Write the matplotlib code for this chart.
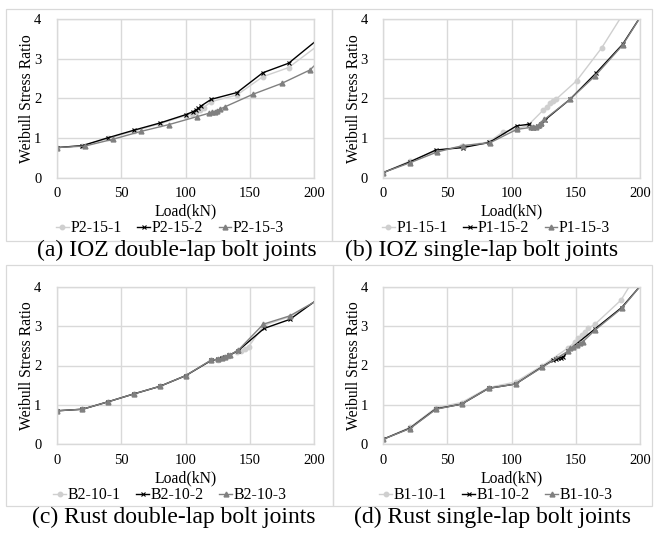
import matplotlib
matplotlib.use("Agg")
import matplotlib.pyplot as plt
from matplotlib.patches import Rectangle

plt.rcParams['font.family'] = ['Liberation Serif', 'DejaVu Serif']

# ---------------- data ----------------
# (a) IOZ double-lap
loadA1 = [0, 20, 40, 60, 80, 100, 105, 108, 111, 114, 120, 140, 160, 180, 220]
ratioA1 = [0.76, 0.81, 0.99, 1.18, 1.36, 1.57, 1.62, 1.67, 1.72, 1.77, 1.92, 2.09, 2.55, 2.78, 3.76]
loadA2 = [0, 20, 40, 60, 80, 100, 106, 108, 110, 112, 120, 140, 160, 180, 220]
ratioA2 = [0.76, 0.81, 1.01, 1.20, 1.38, 1.59, 1.67, 1.71, 1.75, 1.81, 1.98, 2.15, 2.65, 2.89, 3.95]
loadA3 = [0, 22, 43.5, 65.5, 87, 108.7, 118.4, 120.8, 122.9, 124.7, 126.8, 130.6, 152.6, 174.6, 196.6, 218]
ratioA3 = [0.76, 0.80, 0.97, 1.17, 1.34, 1.54, 1.63, 1.65, 1.67, 1.69, 1.73, 1.79, 2.11, 2.38, 2.72, 3.4]
labelsA = ["P2-15-1", "P2-15-2", "P2-15-3"]

# (b) IOZ single-lap
loadB1 = [0, 20.8, 41, 61, 82, 93.5, 104, 113, 124.7, 127.3, 129.9, 132.5, 134.6, 150.7, 170.2, 190]
ratioB1 = [0.13, 0.42, 0.67, 0.80, 0.90, 1.16, 1.23, 1.33, 1.71, 1.79, 1.88, 1.94, 1.98, 2.45, 3.28, 4.3]
loadB2 = [0, 20.8, 41, 61.9, 82.6, 103.9, 113.8, 116.4, 118.5, 120.5, 122.5, 126, 145.5, 165.7, 186.5, 207]
ratioB2 = [0.13, 0.40, 0.70, 0.76, 0.89, 1.31, 1.35, 1.25, 1.27, 1.30, 1.36, 1.46, 1.98, 2.64, 3.37, 4.4]
loadB3 = [0, 21, 42, 62, 83, 104, 115, 117, 119, 121, 123, 125.5, 145.5, 165, 186.5, 207]
ratioB3 = [0.13, 0.38, 0.65, 0.81, 0.88, 1.22, 1.27, 1.27, 1.29, 1.33, 1.39, 1.47, 1.98, 2.57, 3.35, 4.4]
labelsB = ["P1-15-1", "P1-15-2", "P1-15-3"]

# (c) Rust double-lap
loadC1 = [0, 20, 40, 60, 80, 100, 120, 125, 128, 131, 134, 140, 143, 146, 149, 161, 181, 220]
ratioC1 = [0.85, 0.89, 1.08, 1.28, 1.47, 1.74, 2.13, 2.15, 2.18, 2.21, 2.25, 2.35, 2.38, 2.42, 2.48, 3.02, 3.24, 4.0]
loadC2 = [0, 20, 40, 60, 80, 100, 120, 125, 128, 131, 134, 141, 161, 181, 220]
ratioC2 = [0.85, 0.89, 1.08, 1.28, 1.47, 1.74, 2.13, 2.16, 2.18, 2.21, 2.26, 2.38, 2.94, 3.17, 4.09]
loadC3 = [0, 20, 40, 60, 80, 100, 120, 125.4, 128, 130.6, 133.2, 134.5, 141, 160.5, 181, 220]
ratioC3 = [0.85, 0.89, 1.08, 1.28, 1.47, 1.74, 2.14, 2.16, 2.18, 2.21, 2.26, 2.27, 2.39, 3.05, 3.26, 3.98]
labelsC = ["B2-10-1", "B2-10-2", "B2-10-3"]

# (d) Rust single-lap
loadD1 = [0, 20.8, 41, 61, 82, 103, 124, 144.2, 149.4, 152, 154.6, 157.2, 159.7, 165, 185.2, 200]
ratioD1 = [0.13, 0.43, 0.93, 1.06, 1.44, 1.58, 2.00, 2.45, 2.60, 2.69, 2.77, 2.86, 2.94, 3.05, 3.66, 4.45]
loadD2 = [0, 20.8, 41, 61, 82, 103, 124, 132.5, 134.6, 136.4, 138.2, 140.3, 144.2, 165, 185.7, 205]
ratioD2 = [0.13, 0.41, 0.90, 1.02, 1.42, 1.53, 1.97, 2.14, 2.17, 2.18, 2.20, 2.22, 2.38, 2.93, 3.47, 4.2]
loadD3 = [0, 20.8, 41, 61, 82, 103, 124, 144.2, 145.5, 148.1, 150.7, 153.3, 155.4, 165, 185.7, 205]
ratioD3 = [0.13, 0.40, 0.89, 1.02, 1.42, 1.53, 1.96, 2.37, 2.44, 2.48, 2.52, 2.56, 2.60, 2.90, 3.45, 4.2]
labelsD = ["B1-10-1", "B1-10-2", "B1-10-3"]

captions = ["(a) IOZ double-lap bolt joints", "(b) IOZ single-lap bolt joints",
            "(c) Rust double-lap bolt joints", "(d) Rust single-lap bolt joints"]

xticks = [0, 50, 100, 150, 200]
yticks = [0, 1, 2, 3, 4]

# ---------------- layout ----------------
W, H = 654, 533
fig = plt.figure(figsize=(W / 100, H / 100), dpi=100)
fig.patch.set_facecolor("white")

def px_rect(x0, y0, x1, y1):
    return [x0 / W, 1 - y1 / H, (x1 - x0) / W, (y1 - y0) / H]

grid_c = "#D9D9D9"
styles = [
    dict(color="#CFCFCF", marker="o", ms=3.2, lw=1.0, mec="#CFCFCF", mfc="#CFCFCF"),
    dict(color="black", marker="x", ms=3.2, lw=1.0, mew=0.8),
    dict(color="#808080", marker="^", ms=3.5, lw=1.0, mec="#808080", mfc="#808080"),
]

panels = [
    ((56.7, 19.3, 314.3, 177.7), (6, 9, 332, 241), 170, 211, 228, 177, 250,
     [(loadA1, ratioA1), (loadA2, ratioA2), (loadA3, ratioA3)], labelsA),
    ((383.3, 19.3, 640, 177.7), (332, 9, 652, 241), 496, 211, 228, 482, 250,
     [(loadB1, ratioB1), (loadB2, ratioB2), (loadB3, ratioB3)], labelsB),
    ((56.7, 286.7, 314.3, 444.3), (6, 265, 333, 506), 170, 478, 495, 174, 517,
     [(loadC1, ratioC1), (loadC2, ratioC2), (loadC3, ratioC3)], labelsC),
    ((383.3, 286.7, 640, 444.3), (333, 265, 652, 506), 496, 478, 495, 492, 517,
     [(loadD1, ratioD1), (loadD2, ratioD2), (loadD3, ratioD3)], labelsD),
]

for i, (arect, brect, legx, xly, legy, capx, capy, series, labels) in enumerate(panels):
    bx0, by0, bx1, by1 = brect
    fig.patches.append(Rectangle((bx0 / W, 1 - by1 / H), (bx1 - bx0) / W, (by1 - by0) / H,
                                 transform=fig.transFigure, fill=False,
                                 edgecolor=grid_c, lw=0.9, zorder=0))
    ax = fig.add_axes(px_rect(*arect))
    handles = []
    for (xs, ys), st, lab in zip(series, styles, labels):
        h, = ax.plot(xs, ys, label=lab, clip_on=True, **st)
        handles.append(h)
    ax.set_xlim(0, 200)
    ax.set_ylim(0, 4)
    ax.set_xticks(xticks)
    ax.set_yticks(yticks)
    ax.grid(True, color=grid_c, lw=1.0)
    ax.set_axisbelow(True)
    for s in ax.spines.values():
        s.set_color(grid_c)
        s.set_linewidth(1.0)
    ax.tick_params(length=0, labelsize=10.5, colors="black")
    ax.tick_params(axis="y", pad=11)
    ax.tick_params(axis="x", pad=7)
    ax.set_ylabel("Weibull Stress Ratio", fontsize=11.3, labelpad=-1)
    fig.text(((arect[0] + arect[2]) / 2) / W, 1 - xly / H, "Load(kN)", ha="center",
             va="center", fontsize=11.3)
    fig.legend(handles=handles, loc="center", bbox_to_anchor=(legx / W, 1 - legy / H),
               ncol=3, frameon=False, fontsize=11.3, handlelength=0.8,
               handletextpad=0.1, columnspacing=1.0, borderpad=0, borderaxespad=0)
    fig.text(capx / W, 1 - capy / H, captions[i], ha="center", va="center", fontsize=17)

fig.savefig("out.png", dpi=100, facecolor="white")
